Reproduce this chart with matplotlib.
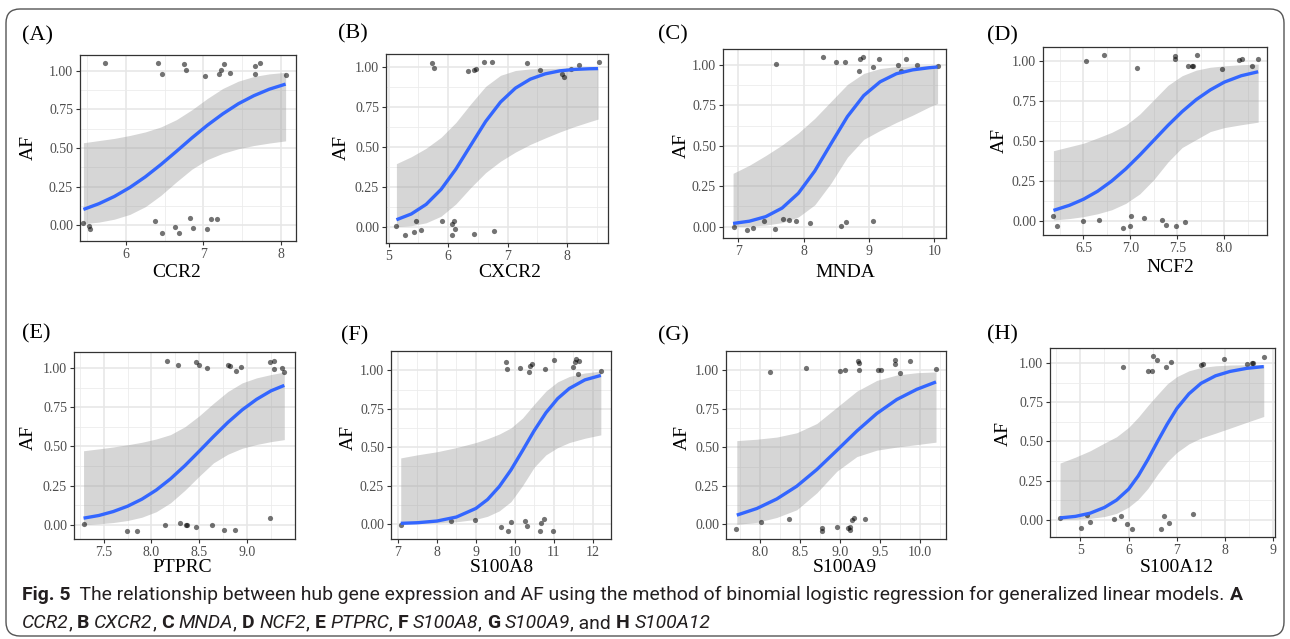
import matplotlib
matplotlib.use("Agg")
import matplotlib.pyplot as plt
from matplotlib.patches import FancyBboxPatch
from matplotlib.transforms import IdentityTransform
from matplotlib.ticker import MultipleLocator, FormatStrFormatter
from matplotlib import font_manager

plt.rcParams["font.family"] = ["Liberation Serif", "DejaVu Serif"]

# ---- data ----
ccr2_x = [5.73, 6.41, 6.47, 6.75, 6.78, 7.02, 7.20, 7.23, 7.27, 7.34, 7.66, 7.67, 7.73, 8.07,
          5.45, 5.52, 5.54, 6.37, 6.46, 6.63, 6.68, 6.83, 6.87, 7.04, 7.10, 7.17]
ccr2_af = [1.049, 1.049, 0.981, 1.043, 1.004, 0.963, 0.976, 1.006, 1.041, 0.987, 0.981, 1.032, 1.047, 0.970,
           0.015, -0.006, -0.024, 0.028, -0.052, -0.011, -0.047, 0.047, -0.017, -0.024, 0.043, 0.041]
ccr2_grid = [5.45, 5.65, 5.85, 6.05, 6.25, 6.45, 6.65, 6.85, 7.05, 7.25, 7.45, 7.65, 7.85, 8.06]
ccr2_fit = [0.103, 0.140, 0.187, 0.245, 0.314, 0.393, 0.478, 0.565, 0.647, 0.721, 0.786, 0.838, 0.880, 0.913]
ccr2_lo = [0.011, 0.021, 0.040, 0.071, 0.121, 0.194, 0.281, 0.363, 0.425, 0.466, 0.495, 0.516, 0.532, 0.546]
ccr2_hi = [0.534, 0.548, 0.562, 0.581, 0.604, 0.636, 0.683, 0.747, 0.820, 0.885, 0.932, 0.962, 0.979, 0.989]

cxcr2_x = [5.72, 5.77, 6.33, 6.43, 6.46, 6.60, 6.74, 7.32, 7.54, 7.92, 7.94, 8.07, 8.20, 8.53,
           5.12, 5.28, 5.43, 5.46, 5.55, 5.89, 6.06, 6.10, 6.11, 6.07, 6.44, 6.77]
cxcr2_af = [1.025, 0.994, 0.975, 0.981, 0.985, 1.029, 1.029, 1.025, 0.979, 0.954, 0.939, 0.990, 1.015, 1.031,
            0.010, -0.046, -0.027, 0.042, -0.019, 0.042, 0.019, 0.042, -0.010, -0.050, -0.040, -0.023]
cxcr2_grid = [5.13, 5.38, 5.63, 5.88, 6.13, 6.38, 6.63, 6.88, 7.13, 7.38, 7.63, 7.88, 8.13, 8.38, 8.52]
cxcr2_fit = [0.047, 0.083, 0.143, 0.236, 0.363, 0.512, 0.660, 0.781, 0.868, 0.924, 0.957, 0.976, 0.985, 0.989, 0.990]
cxcr2_lo = [0.004, 0.010, 0.028, 0.069, 0.146, 0.248, 0.341, 0.412, 0.469, 0.517, 0.557, 0.595, 0.629, 0.659, 0.675]
cxcr2_hi = [0.397, 0.440, 0.493, 0.561, 0.654, 0.770, 0.879, 0.948, 0.978, 0.988, 0.991, 0.993, 0.994, 0.994, 0.994]

mnda_x = [7.57, 8.30, 8.50, 8.64, 8.85, 8.86, 8.91, 9.06, 9.15, 9.44, 9.49, 9.56, 9.74, 10.06,
          6.93, 7.14, 7.23, 7.40, 7.56, 7.68, 7.77, 7.89, 8.09, 8.57, 8.65, 9.06]
mnda_af = [1.004, 1.048, 1.021, 1.019, 0.963, 1.035, 1.048, 0.988, 1.039, 1.000, 0.961, 1.035, 0.998, 0.992,
           0.0, -0.021, -0.006, 0.035, -0.014, 0.045, 0.041, 0.033, 0.021, 0.002, 0.027, 0.035]
mnda_grid = [6.92, 7.17, 7.42, 7.67, 7.92, 8.17, 8.42, 8.67, 8.92, 9.17, 9.42, 9.67, 9.92, 10.05]
mnda_fit = [0.020, 0.034, 0.062, 0.115, 0.207, 0.344, 0.514, 0.681, 0.811, 0.896, 0.946, 0.970, 0.983, 0.988]
mnda_lo = [0.0, 0.003, 0.010, 0.025, 0.060, 0.135, 0.270, 0.430, 0.540, 0.595, 0.645, 0.690, 0.740, 0.762]
mnda_hi = [0.330, 0.380, 0.440, 0.505, 0.580, 0.670, 0.775, 0.880, 0.948, 0.978, 0.990, 0.995, 0.997, 0.998]

ncf2_x = [6.53, 6.72, 7.07, 7.47, 7.47, 7.61, 7.66, 7.67, 7.71, 7.98, 8.16, 8.19, 8.29, 8.36,
          6.18, 6.22, 6.49, 6.66, 6.92, 7.00, 7.01, 7.14, 7.34, 7.38, 7.49, 7.58]
ncf2_af = [1.002, 1.038, 0.958, 1.031, 1.017, 0.973, 0.973, 0.969, 1.038, 0.950, 1.008, 1.013, 0.969, 1.017,
           0.031, -0.033, -0.002, 0.004, -0.044, -0.033, 0.033, 0.017, 0.008, -0.023, -0.029, -0.008]
ncf2_grid = [6.18, 6.35, 6.5, 6.65, 6.8, 6.95, 7.1, 7.25, 7.4, 7.55, 7.7, 7.85, 8.0, 8.18, 8.36]
ncf2_fit = [0.066, 0.098, 0.136, 0.186, 0.250, 0.326, 0.413, 0.506, 0.599, 0.685, 0.760, 0.821, 0.870, 0.910, 0.935]
ncf2_lo = [0.006, 0.015, 0.027, 0.045, 0.070, 0.110, 0.170, 0.260, 0.370, 0.460, 0.510, 0.560, 0.585, 0.603, 0.619]
ncf2_hi = [0.440, 0.465, 0.487, 0.520, 0.555, 0.600, 0.670, 0.760, 0.850, 0.910, 0.945, 0.963, 0.972, 0.979, 0.983]

ptprc_x = [8.16, 8.28, 8.47, 8.50, 8.58, 8.80, 8.82, 8.88, 8.94, 9.24, 9.28, 9.28, 9.37, 9.39,
           7.29, 7.74, 7.85, 8.14, 8.30, 8.36, 8.37, 8.47, 8.63, 8.76, 8.87, 9.24]
ptprc_af = [1.045, 1.019, 1.038, 1.017, 1.002, 1.021, 1.015, 0.981, 1.004, 1.038, 1.045, 0.994, 1.002, 0.977,
            0.006, -0.040, -0.043, -0.002, 0.009, -0.002, -0.002, -0.017, 0.0, -0.032, -0.032, 0.045]
ptprc_grid = [7.29, 7.45, 7.6, 7.75, 7.9, 8.05, 8.2, 8.35, 8.5, 8.65, 8.8, 8.95, 9.1, 9.25, 9.39]
ptprc_fit = [0.042, 0.059, 0.084, 0.118, 0.163, 0.221, 0.293, 0.377, 0.469, 0.563, 0.653, 0.733, 0.800, 0.854, 0.889]
ptprc_lo = [0.0, 0.006, 0.014, 0.027, 0.048, 0.083, 0.140, 0.220, 0.310, 0.395, 0.450, 0.488, 0.512, 0.530, 0.543]
ptprc_hi = [0.472, 0.484, 0.496, 0.510, 0.526, 0.547, 0.575, 0.625, 0.695, 0.775, 0.850, 0.905, 0.937, 0.958, 0.974]

s100a8_x = [9.77, 9.81, 10.13, 10.37, 10.40, 10.43, 10.78, 11.00, 11.50, 11.55, 11.56, 11.66, 11.63, 12.21,
            7.07, 8.36, 8.97, 9.65, 9.83, 9.90, 10.25, 10.31, 10.66, 10.68, 10.75, 10.99]
s100a8_af = [1.056, 1.011, 1.013, 0.987, 1.028, 1.041, 1.011, 1.067, 1.022, 1.056, 1.072, 1.059, 0.976, 0.993,
             -0.009, 0.020, 0.024, -0.017, -0.046, 0.013, 0.022, -0.011, -0.046, 0.004, 0.033, -0.046]
s100a8_grid = [7.07, 7.5, 8.0, 8.5, 9.0, 9.3, 9.6, 9.9, 10.2, 10.5, 10.8, 11.1, 11.4, 11.8, 12.21]
s100a8_fit = [0.004, 0.008, 0.019, 0.045, 0.101, 0.159, 0.243, 0.351, 0.478, 0.608, 0.724, 0.816, 0.882, 0.938, 0.967]
s100a8_lo = [0.002, 0.004, 0.007, 0.014, 0.030, 0.050, 0.085, 0.145, 0.250, 0.370, 0.450, 0.497, 0.530, 0.558, 0.580]
s100a8_hi = [0.430, 0.450, 0.470, 0.497, 0.530, 0.555, 0.585, 0.625, 0.690, 0.780, 0.865, 0.925, 0.960, 0.983, 0.995]

s100a9_x = [8.12, 8.58, 9.00, 9.06, 9.23, 9.24, 9.24, 9.48, 9.51, 9.69, 9.69, 9.75, 9.87, 10.20,
            7.70, 8.01, 8.36, 8.77, 8.78, 8.96, 9.10, 9.13, 9.13, 9.15, 9.17, 9.31]
s100a9_af = [0.987, 1.013, 0.998, 1.002, 1.058, 1.002, 1.048, 1.002, 1.000, 1.039, 1.069, 0.983, 1.061, 1.006,
             -0.028, 0.013, 0.032, -0.022, -0.043, -0.015, -0.022, -0.037, -0.015, 0.028, 0.039, 0.032]
s100a9_grid = [7.71, 7.96, 8.21, 8.46, 8.71, 8.96, 9.21, 9.46, 9.71, 9.96, 10.2]
s100a9_fit = [0.060, 0.103, 0.165, 0.248, 0.356, 0.480, 0.606, 0.720, 0.811, 0.877, 0.925]
s100a9_lo = [0.0, 0.013, 0.045, 0.095, 0.205, 0.345, 0.440, 0.482, 0.502, 0.518, 0.534]
s100a9_hi = [0.544, 0.553, 0.567, 0.595, 0.655, 0.760, 0.865, 0.935, 0.970, 0.985, 0.990]

s100a12_x = [5.89, 6.40, 6.48, 6.51, 6.58, 6.78, 6.88, 7.49, 7.54, 7.98, 8.45, 8.56, 8.57, 8.81,
             4.58, 5.01, 5.13, 5.20, 5.70, 5.84, 5.97, 6.08, 6.67, 6.74, 6.84, 7.33]
s100a12_af = [0.979, 0.951, 0.949, 1.045, 1.023, 0.977, 1.006, 0.989, 0.994, 1.026, 0.996, 1.002, 1.002, 1.043,
              0.011, -0.053, 0.032, -0.015, 0.006, 0.026, -0.026, -0.060, -0.060, 0.021, -0.019, 0.036]
s100a12_grid = [4.58, 4.9, 5.2, 5.5, 5.75, 6.0, 6.2, 6.4, 6.6, 6.8, 7.0, 7.25, 7.5, 7.8, 8.1, 8.45, 8.8]
s100a12_fit = [0.011, 0.021, 0.041, 0.078, 0.125, 0.195, 0.280, 0.385, 0.500, 0.611, 0.711, 0.805, 0.872, 0.920,
               0.948, 0.968, 0.979]
s100a12_lo = [0.0, 0.003, 0.008, 0.020, 0.040, 0.080, 0.130, 0.200, 0.290, 0.370, 0.430, 0.485, 0.522, 0.553,
              0.585, 0.623, 0.660]
s100a12_hi = [0.362, 0.400, 0.440, 0.490, 0.530, 0.590, 0.655, 0.730, 0.800, 0.868, 0.915, 0.952, 0.973, 0.984,
              0.989, 0.991, 0.992]

genes = ["CCR2", "CXCR2", "MNDA", "NCF2", "PTPRC", "S100A8", "S100A9", "S100A12"]
letters = ["A", "B", "C", "D", "E", "F", "G", "H"]
y_ticks = [0.0, 0.25, 0.5, 0.75, 1.0]

W, H = 1290, 639
fig = plt.figure(figsize=(W / 100, H / 100), dpi=100)

# panel layout in pixels: axes box, label pos, xlabel pos, ylabel pos
panels = [
    (ccr2_x, ccr2_af, ccr2_grid, ccr2_fit, ccr2_lo, ccr2_hi, (5.406, 8.194), (-0.101, 1.101), [6, 7, 8], "%d",
     (80, 55, 296, 241), (22, 36), (177, 273), (28, 147)),
    (cxcr2_x, cxcr2_af, cxcr2_grid, cxcr2_fit, cxcr2_lo, cxcr2_hi, (4.955, 8.687), (-0.098, 1.081), [5, 6, 7, 8], "%d",
     (386, 54, 608, 243), (338, 34), (510, 273), (341, 147)),
    (mnda_x, mnda_af, mnda_grid, mnda_fit, mnda_lo, mnda_hi, (6.766, 10.179), (-0.070, 1.099), [7, 8, 9, 10], "%d",
     (723, 49, 946, 238), (658, 35), (845, 273), (681, 146)),
    (ncf2_x, ncf2_af, ncf2_grid, ncf2_fit, ncf2_lo, ncf2_hi, (6.069, 8.454), (-0.088, 1.090), [6.5, 7.0, 7.5, 8.0], "%.1f",
     (1043, 47, 1267, 235), (987, 36), (1170, 267), (999, 140)),
    (ptprc_x, ptprc_af, ptprc_grid, ptprc_fit, ptprc_lo, ptprc_hi, (7.190, 9.502), (-0.091, 1.102), [7.5, 8.0, 8.5, 9.0], "%.1f",
     (74, 352, 295, 539), (22, 334), (182, 567), (28, 437)),
    (s100a8_x, s100a8_af, s100a8_grid, s100a8_fit, s100a8_lo, s100a8_hi, (6.820, 12.471), (-0.098, 1.126), [7, 8, 9, 10, 11, 12], "%d",
     (391, 351, 611, 539), (341, 336), (502, 567), (348, 437)),
    (s100a9_x, s100a9_af, s100a9_grid, s100a9_fit, s100a9_lo, s100a9_hi, (7.575, 10.325), (-0.095, 1.126), [8.0, 8.5, 9.0, 9.5, 10.0], "%.1f",
     (726, 351, 946, 539), (658, 336), (845, 567), (682, 437)),
    (s100a12_x, s100a12_af, s100a12_grid, s100a12_fit, s100a12_lo, s100a12_hi, (4.372, 9.033), (-0.111, 1.098), [5, 6, 7, 8, 9], "%d",
     (1050, 348, 1275, 537), (987, 335), (1177, 567), (1003, 433)),
]

for i, p in enumerate(panels):
    x, af, grid, fit, lo, hi, xlim, ylim, xt, xfmt, box, lab, xl, yl = p
    x0, y0, x1, y1 = box
    ax = fig.add_axes([x0 / W, 1 - y1 / H, (x1 - x0) / W, (y1 - y0) / H])
    ax.fill_between(grid, lo, hi, color="#999999", alpha=0.4, lw=0, zorder=2)
    ax.scatter(x, af, s=14, color="black", alpha=0.55, lw=0, zorder=3)
    ax.plot(grid, fit, color="#3366FF", lw=2.4, zorder=4, solid_capstyle="butt", solid_joinstyle="round")
    ax.set_xlim(*xlim)
    ax.set_ylim(*ylim)
    ax.set_xticks(xt)
    ax.set_yticks(y_ticks)
    ax.xaxis.set_major_formatter(FormatStrFormatter(xfmt))
    ax.yaxis.set_major_formatter(FormatStrFormatter("%.2f"))
    ax.xaxis.set_minor_locator(MultipleLocator((xt[1] - xt[0]) / 2))
    ax.yaxis.set_minor_locator(MultipleLocator(0.125))
    ax.grid(which="major", color="#e6e6e6", lw=1.1)
    ax.grid(which="minor", color="#ececec", lw=0.6)
    ax.set_axisbelow(True)
    ax.tick_params(which="major", length=3, width=0.8, color="#333333", labelsize=10,
                   labelcolor="#4d4d4d", pad=2)
    ax.tick_params(which="minor", length=0)
    for s in ax.spines.values():
        s.set_color("#333333")
        s.set_linewidth(0.9)
    fig.text(lab[0] / W, 1 - lab[1] / H, "(%s)" % letters[i], fontsize=16, ha="left", va="center")
    fig.text(xl[0] / W, 1 - xl[1] / H, genes[i], fontsize=14, ha="center", va="center")
    fig.text(yl[0] / W, 1 - yl[1] / H, "AF", fontsize=14, ha="center", va="center", rotation=90)

# outer rounded frame
frame = FancyBboxPatch((6, 3), 1278, 627, boxstyle="round,pad=0,rounding_size=14",
                       transform=IdentityTransform(), fill=False, edgecolor="#555555", lw=1)
fig.add_artist(frame)

# caption
names = {f.name for f in font_manager.fontManager.ttflist}
cap_font = "Liberation Sans Narrow" if "Liberation Sans Narrow" in names else "Roboto"
renderer = fig.canvas.get_renderer()


def put_runs(x, y, runs, size, keep=True):
    texts = []
    for txt, bold, ital in runs:
        t = fig.text(x, y, txt, transform=IdentityTransform(), fontsize=size, family=cap_font,
                     fontweight="bold" if bold else "normal",
                     fontstyle="italic" if ital else "normal",
                     color="#231f20", ha="left", va="baseline")
        x += t.get_window_extent(renderer).width
        texts.append(t)
    if not keep:
        for t in texts:
            t.remove()
    return x


line1 = [("Fig. 5", True, False),
         ("  The relationship between hub gene expression and AF using the method of binomial "
          "logistic regression for generalized linear models. ", False, False),
         ("A", True, False)]
line2 = [("CCR2", False, True)]
for g, l in zip(genes[1:], letters[1:]):
    line2.append((", and " if l == "H" else ", ", False, False))
    line2.append((l, True, False))
    line2.append((" ", False, False))
    line2.append((g, False, True))

x_start, x_end = 22, 1246
w10 = put_runs(x_start, 0, line1, 10, keep=False) - x_start
cap_size = 10 * (x_end - x_start) / w10
put_runs(x_start, H - 600, line1, cap_size)
put_runs(x_start, H - 628, line2, cap_size)

fig.savefig("out.png", dpi=100)
